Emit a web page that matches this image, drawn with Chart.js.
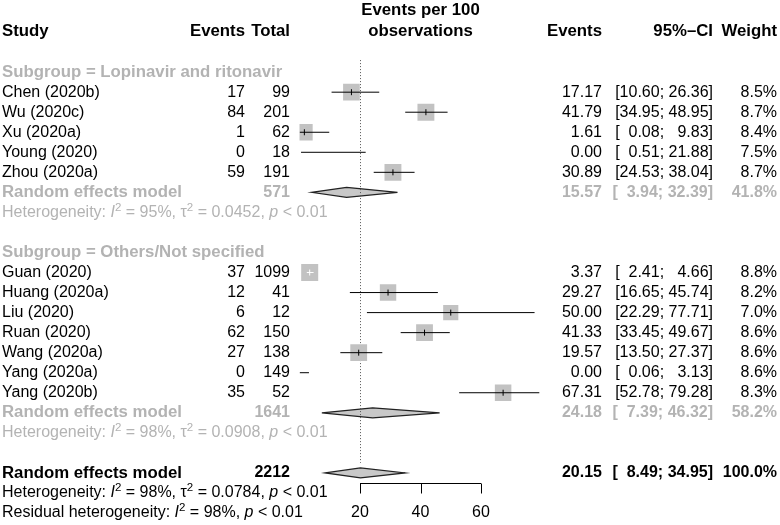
<!DOCTYPE html>
<html><head><meta charset="utf-8">
<script src="https://cdn.jsdelivr.net/npm/chart.js@4.4.1/dist/chart.umd.min.js"></script>
<style>html,body{margin:0;padding:0;background:#fff}#wrap{width:780px;height:525px;position:relative}</style>
</head><body><div id="wrap"><canvas id="c" width="780" height="525"></canvas></div>
<script>
// ---------- data ----------
const subgroupNames = ["Lopinavir and ritonavir", "Others/Not specified"];

const studiesA = ["Chen (2020b)", "Wu (2020c)", "Xu (2020a)", "Young (2020)", "Zhou (2020a)"];
const eventsA  = [17, 84, 1, 0, 59];
const totalsA  = [99, 201, 62, 18, 191];
const estA     = [17.17, 41.79, 1.61, 0.00, 30.89];
const lowA     = [10.60, 34.95, 0.08, 0.51, 24.53];
const highA    = [26.36, 48.95, 9.83, 21.88, 38.04];
const weightA  = [8.5, 8.7, 8.4, 7.5, 8.7];

const studiesB = ["Guan (2020)", "Huang (2020a)", "Liu (2020)", "Ruan (2020)", "Wang (2020a)", "Yang (2020a)", "Yang (2020b)"];
const eventsB  = [37, 12, 6, 62, 27, 0, 35];
const totalsB  = [1099, 41, 12, 150, 138, 149, 52];
const estB     = [3.37, 29.27, 50.00, 41.33, 19.57, 0.00, 67.31];
const lowB     = [2.41, 16.65, 22.29, 33.45, 13.50, 0.06, 52.78];
const highB    = [4.66, 45.74, 77.71, 49.67, 27.37, 3.13, 79.28];
const weightB  = [8.8, 8.2, 7.0, 8.6, 8.6, 8.6, 8.3];

// random effects: [subgroup A, subgroup B, overall]
const reTotals = [571, 1641, 2212];
const reEst    = [15.57, 24.18, 20.15];
const reLow    = [3.94, 7.39, 8.49];
const reHigh   = [32.39, 46.32, 34.95];
const reWeight = [41.8, 58.2, 100.0];
const hetI2    = [95, 98, 98];
const hetTau2  = ["0.0452", "0.0908", "0.0784"];
const hetP     = ["< 0.01", "< 0.01", "< 0.01"];
const residI2  = 98;
const residP   = "< 0.01";

const axisTicks = [20, 40, 60];

// ---------- layout helpers ----------
const FONT = '"Liberation Sans", Arial, Helvetica, sans-serif';
const GRAY = '#b3b3b3';
const SQ_COL = '#c2c2c2';
const REG = 16, BOLD = 16.8;

const rows = [];
let rr = 0;
function addGroup(gi, st, ev, tot, est, lo, hi, w) {
  rows.push({type:'sub', r: rr++, label: 'Subgroup = ' + subgroupNames[gi]});
  st.forEach((s, i) => rows.push({type:'study', r: rr++, name: s, ev: ev[i], tot: tot[i], est: est[i], lo: lo[i], hi: hi[i], w: w[i]}));
  rows.push({type:'re', r: rr++, k: gi, gray: true});
  rows.push({type:'het', r: rr++, k: gi, gray: true});
  rr++;
}
addGroup(0, studiesA, eventsA, totalsA, estA, lowA, highA, weightA);
addGroup(1, studiesB, eventsB, totalsB, estB, lowB, highB, weightB);
rows.push({type:'re', r: rr++, k: 2, gray: false});
rows.push({type:'het', r: rr++, k: 2, gray: false});
rows.push({type:'resid', r: rr++});

const studyRows = rows.filter(o => o.type === 'study');
const sqSide = w => 5.73 * Math.sqrt(w);
const withSquare = studyRows.filter(o => o.est > 0);

// datasets
const datasets = [];
datasets.push({
  label: 'est-ticks', order: 0,
  data: withSquare.map(o => ({x: o.est, y: o.r})),
  pointStyle: 'line', pointRotation: 90, pointRadius: 3, pointHoverRadius: 3,
  pointBorderColor: withSquare.map(o => ((o.hi - o.lo) * 3.025 < sqSide(o.w)) ? '#ffffff' : '#000000'),
  pointBorderWidth: 1, showLine: false
});
studyRows.forEach(o => {
  const inside = o.est > 0 && ((o.hi - o.lo) * 3.025 < sqSide(o.w));
  datasets.push({
    label: 'ci-' + o.name, type: 'line', order: 1,
    data: [{x: o.lo, y: o.r}, {x: o.hi, y: o.r}],
    borderColor: inside ? '#ffffff' : '#000000', borderWidth: 1,
    pointRadius: 0, pointHoverRadius: 0, showLine: true, fill: false
  });
});
datasets.push({
  label: 'squares', order: 2,
  data: withSquare.map(o => ({x: o.est, y: o.r})),
  pointStyle: 'rect', pointRadius: withSquare.map(o => sqSide(o.w) / (2 * Math.SQRT1_2)),
  pointHoverRadius: withSquare.map(o => sqSide(o.w) / (2 * Math.SQRT1_2)),
  pointBackgroundColor: SQ_COL, pointBorderWidth: 0, pointBorderColor: SQ_COL, showLine: false
});

// ---------- drawing plugin ----------
function font(size, bold, italic) {
  return (italic ? 'italic ' : '') + (bold ? 'bold ' : '') + size + 'px ' + FONT;
}
function txt(ctx, s, x, y, align, size, bold, color) {
  ctx.font = font(size, bold, false);
  ctx.textAlign = align; ctx.textBaseline = 'middle'; ctx.fillStyle = color;
  ctx.fillText(s, x, y);
}
function runs(ctx, list, x, y, color) {
  ctx.textAlign = 'left'; ctx.textBaseline = 'middle'; ctx.fillStyle = color;
  list.forEach(([s, st]) => {
    let size = REG, dy = 0, it = false;
    if (st === 'i') it = true;
    if (st === 'sup') { size = REG * 0.72; dy = -5; }
    ctx.font = font(size, false, it);
    ctx.fillText(s, x, y + dy);
    x += ctx.measureText(s).width;
  });
}
const C = {ev: 245, tot: 290, est: 602, ci: 713, w: 777};
function ciText(ctx, lo, hi, y, size, bold, color) {
  ctx.font = font(size, bold, false);
  const full = ctx.measureText('[00.00; 00.00]').width;
  const x0 = C.ci - full;
  const xs = x0 + ctx.measureText('[00.00;').width;
  txt(ctx, '[', x0, y, 'left', size, bold, color);
  txt(ctx, lo.toFixed(2) + ';', xs, y, 'right', size, bold, color);
  txt(ctx, hi.toFixed(2) + ']', C.ci, y, 'right', size, bold, color);
}

const forestPlugin = {
  id: 'forest',
  beforeDatasetsDraw(chart) {
    const ctx = chart.ctx, xs = chart.scales.x, ys = chart.scales.y;
    ctx.save();
    // diamonds
    rows.filter(o => o.type === 're').forEach(o => {
      const y = ys.getPixelForValue(o.r);
      const h = 5;
      ctx.beginPath();
      ctx.moveTo(xs.getPixelForValue(reLow[o.k]), y);
      ctx.lineTo(xs.getPixelForValue(reEst[o.k]), y - h);
      ctx.lineTo(xs.getPixelForValue(reHigh[o.k]), y);
      ctx.lineTo(xs.getPixelForValue(reEst[o.k]), y + h);
      ctx.closePath();
      ctx.fillStyle = '#c8c8c8'; ctx.fill();
      ctx.strokeStyle = '#222222'; ctx.lineWidth = 1.2; ctx.stroke();
    });
    // reference (dotted) line at overall estimate
    const xr = Math.round(xs.getPixelForValue(reEst[2])) + 0.5;
    ctx.beginPath();
    ctx.setLineDash([1, 2]);
    ctx.moveTo(xr, ys.getPixelForValue(-0.6));
    ctx.lineTo(xr, ys.getPixelForValue(19.5));
    ctx.strokeStyle = '#555555'; ctx.lineWidth = 1; ctx.stroke();
    ctx.setLineDash([]);
    ctx.restore();
  },
  afterDatasetsDraw(chart) {
    const ctx = chart.ctx, xs = chart.scales.x, ys = chart.scales.y;
    ctx.save();
    // axis
    const ya = Math.round(ys.getPixelForValue(20.5)) + 0.5;
    const xa0 = xs.getPixelForValue(axisTicks[0]), xa1 = xs.getPixelForValue(axisTicks[axisTicks.length - 1]);
    ctx.beginPath();
    ctx.moveTo(xa0, ya); ctx.lineTo(xa1, ya);
    axisTicks.forEach(t => { const x = Math.round(xs.getPixelForValue(t)) + 0.5; ctx.moveTo(x, ya); ctx.lineTo(x, ya + 10); });
    ctx.strokeStyle = '#000'; ctx.lineWidth = 1; ctx.stroke();
    axisTicks.forEach(t => txt(ctx, String(t), xs.getPixelForValue(t), ys.getPixelForValue(22), 'center', REG, false, '#000'));

    // headers
    const yh = 31, xc = (xa0 + xa1) / 2;
    txt(ctx, 'Study', 2, yh, 'left', BOLD, true, '#000');
    txt(ctx, 'Events', C.ev, yh, 'right', BOLD, true, '#000');
    txt(ctx, 'Total', C.tot, yh, 'right', BOLD, true, '#000');
    txt(ctx, 'Events per 100', xc, 10, 'center', BOLD, true, '#000');
    txt(ctx, 'observations', xc, yh, 'center', BOLD, true, '#000');
    txt(ctx, 'Events', C.est, yh, 'right', BOLD, true, '#000');
    txt(ctx, '95%\u2013CI', C.ci, yh, 'right', BOLD, true, '#000');
    txt(ctx, 'Weight', C.w, yh, 'right', BOLD, true, '#000');

    rows.forEach(o => {
      const y = ys.getPixelForValue(o.r);
      if (o.type === 'sub') {
        txt(ctx, o.label, 2, y, 'left', BOLD, true, GRAY);
      } else if (o.type === 'study') {
        txt(ctx, o.name, 2, y, 'left', REG, false, '#000');
        txt(ctx, String(o.ev), C.ev, y, 'right', REG, false, '#000');
        txt(ctx, String(o.tot), C.tot, y, 'right', REG, false, '#000');
        txt(ctx, o.est.toFixed(2), C.est, y, 'right', REG, false, '#000');
        ciText(ctx, o.lo, o.hi, y, REG, false, '#000');
        txt(ctx, o.w.toFixed(1) + '%', C.w, y, 'right', REG, false, '#000');
      } else if (o.type === 're') {
        const col = o.gray ? GRAY : '#000';
        txt(ctx, 'Random effects model', 2, y, 'left', BOLD, true, col);
        txt(ctx, String(reTotals[o.k]), C.tot, y, 'right', REG, true, col);
        txt(ctx, reEst[o.k].toFixed(2), C.est, y, 'right', REG, true, col);
        ciText(ctx, reLow[o.k], reHigh[o.k], y, REG, true, col);
        txt(ctx, reWeight[o.k].toFixed(1) + '%', C.w, y, 'right', REG, true, col);
      } else if (o.type === 'het') {
        const col = o.gray ? GRAY : '#000';
        runs(ctx, [['Heterogeneity: ', 'n'], ['I', 'i'], ['2', 'sup'], [' = ' + hetI2[o.k] + '%, ', 'n'],
                   ['\u03c4', 'n'], ['2', 'sup'], [' = ' + hetTau2[o.k] + ', ', 'n'], ['p', 'i'], [' ' + hetP[o.k], 'n']], 2, y, col);
      } else if (o.type === 'resid') {
        runs(ctx, [['Residual heterogeneity: ', 'n'], ['I', 'i'], ['2', 'sup'], [' = ' + residI2 + '%, ', 'n'],
                   ['p', 'i'], [' ' + residP, 'n']], 2, y, '#000');
      }
    });
    ctx.restore();
  }
};

new Chart(document.getElementById('c'), {
  type: 'scatter',
  data: { datasets },
  options: {
    responsive: false, animation: false, events: [],
    layout: { padding: { left: 299.5, right: 238.5, top: 8.32, bottom: 11 } },
    scales: {
      x: { type: 'linear', min: 0, max: 80, display: false },
      y: { type: 'linear', min: -3, max: 22, reverse: true, display: false }
    },
    plugins: { legend: { display: false }, tooltip: { enabled: false } },
    elements: { line: { tension: 0 } }
  },
  plugins: [forestPlugin]
});
</script>
</body></html>
